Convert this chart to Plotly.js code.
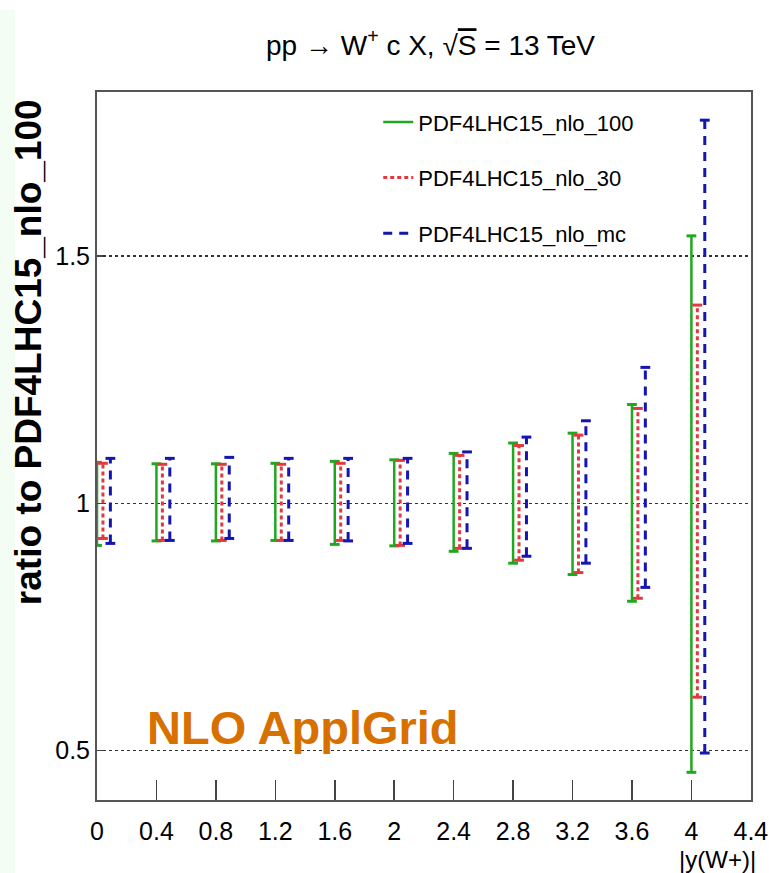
<!DOCTYPE html>
<html>
<head>
<meta charset="utf-8">
<script src="https://cdn.plot.ly/plotly-3.0.1.min.js"></script>
<style>html,body{margin:0;padding:0;background:#fff;}#chart{width:769px;height:873px;}</style>
</head>
<body>
<div id="chart"></div>
<script>
// bin positions (|y(W+)|)
const xBins = [0, 0.4, 0.8, 1.2, 1.6, 2.0, 2.4, 2.8, 3.2, 3.6, 4.0];
const xTickVals = [0, 0.4, 0.8, 1.2, 1.6, 2.0, 2.4, 2.8, 3.2, 3.6, 4.0, 4.4];
const xTickText = ["0", "0.4", "0.8", "1.2", "1.6", "2", "2.4", "2.8", "3.2", "3.6", "4", "4.4"];
const yTickVals = [0.5, 1, 1.5];
const yTickText = ["0.5", "1", "1.5"];

// PDF4LHC15_nlo_100 band (upper / lower ratio)
const up100 = [1.083, 1.080, 1.080, 1.081, 1.085, 1.088, 1.101, 1.122, 1.142, 1.200, 1.541];
const lo100 = [0.915, 0.924, 0.924, 0.925, 0.917, 0.914, 0.903, 0.879, 0.856, 0.802, 0.456];
// PDF4LHC15_nlo_30
const up30 = [1.081, 1.079, 1.079, 1.079, 1.081, 1.087, 1.097, 1.117, 1.138, 1.192, 1.401];
const lo30 = [0.929, 0.925, 0.925, 0.925, 0.925, 0.915, 0.909, 0.885, 0.860, 0.808, 0.608];
// PDF4LHC15_nlo_mc
const upMC = [1.091, 1.091, 1.093, 1.091, 1.091, 1.091, 1.104, 1.134, 1.167, 1.275, 1.775];
const loMC = [0.919, 0.925, 0.929, 0.925, 0.924, 0.919, 0.909, 0.893, 0.879, 0.830, 0.495];

const names = ["PDF4LHC15_nlo_100", "PDF4LHC15_nlo_30", "PDF4LHC15_nlo_mc"];
const colors = ["#1fa81f", "#e0393e", "#1515b0"];
const dashes = ["solid", "4px,3px", "9px,7px"];
const shifts = [0, 0.04, 0.09];
const ups = [up100, up30, upMC];
const los = [lo100, lo30, loMC];

const FONT = "Liberation Sans, Arial, Helvetica, sans-serif";

const traces = [];
for (let s = 0; s < 3; s++) {
  const lx = [], ly = [], cx = [], cy = [];
  xBins.forEach((x, i) => {
    const xx = x + shifts[s];
    lx.push(xx, xx, null);
    ly.push(los[s][i], ups[s][i], null);
    cx.push(xx, xx);
    cy.push(los[s][i], ups[s][i]);
  });
  traces.push({
    type: "scatter", mode: "lines", x: lx, y: ly, name: names[s],
    legendgroup: "g" + s,
    line: {color: colors[s], width: s === 0 ? 2.5 : 3, dash: dashes[s]},
    connectgaps: false, hoverinfo: "skip"
  });
  traces.push({
    type: "scatter", mode: "markers", x: cx, y: cy, showlegend: false,
    legendgroup: "g" + s,
    marker: {symbol: "line-ew", size: 7, line: {color: colors[s], width: 3}},
    hoverinfo: "skip"
  });
}

const layout = {
  width: 769, height: 873,
  margin: {l: 97, r: 18, t: 92, b: 73},
  paper_bgcolor: "#ffffff", plot_bgcolor: "#ffffff",
  showlegend: true,
  font: {family: FONT, color: "#000", size: 25},
  title: {
    text: "pp \u2192 W<sup>+</sup> c X, \u221A<span style=\"text-decoration:overline\">S</span> = 13 TeV",
    x: 0.51, xref: "paper", xanchor: "center",
    y: 0.948, yref: "container", yanchor: "middle",
    font: {family: FONT, size: 28, color: "#000"}
  },
  legend: {
    x: 0.43, y: 0.987, xanchor: "left", yanchor: "top",
    bgcolor: "rgba(255,255,255,0)", borderwidth: 0,
    font: {family: FONT, size: 22, color: "#000"},
    tracegroupgap: 24, traceorder: "grouped"
  },
  xaxis: {
    range: [0, 4.401], tickmode: "array", tickvals: xTickVals, ticktext: xTickText,
    ticks: "inside", ticklen: 20, tickwidth: 1.5, tickcolor: "#444",
    showline: true, linecolor: "#555", linewidth: 2, mirror: true,
    showgrid: false, zeroline: false, ticklabelstandoff: 8,
    ticklabeloverflow: "allow",
    tickfont: {family: FONT, size: 25, color: "#000"}
  },
  yaxis: {
    range: [0.4, 1.832], tickmode: "array", tickvals: yTickVals, ticktext: yTickText,
    ticks: "inside", ticklen: 6, tickwidth: 1.5, tickcolor: "#444",
    showline: true, linecolor: "#555", linewidth: 2, mirror: true,
    showgrid: true, gridcolor: "#333", gridwidth: 1.5, griddash: "dot",
    zeroline: false,
    tickfont: {family: FONT, size: 25, color: "#000"}
  },
  shapes: [{
    type: "rect", xref: "paper", yref: "paper", layer: "below",
    x0: -0.1484, x1: -0.1255, y0: -0.103, y1: 1.116,
    fillcolor: "#f3fdf3", line: {width: 0}
  }],
  annotations: [
    {text: "ratio to PDF4LHC15_nlo_100", textangle: -90, showarrow: false,
     xref: "paper", yref: "paper", x: -0.1035, y: 0.633, xanchor: "center", yanchor: "middle",
     font: {family: FONT, size: 37, color: "#000", weight: "bold"}},
    {text: "|y(W+)|", showarrow: false, xref: "paper", yref: "paper",
     x: 1.01, y: -0.084, xanchor: "right", yanchor: "middle",
     font: {family: FONT, size: 24, color: "#000"}},
    {text: "<b>NLO ApplGrid</b>", showarrow: false, xref: "paper", yref: "paper",
     x: 0.315, y: 0.103, xanchor: "center", yanchor: "middle",
     font: {family: FONT, size: 47, color: "#d87000"}}
  ]
};

Plotly.newPlot("chart", traces, layout, {displayModeBar: false, staticPlot: true});
</script>
</body>
</html>
